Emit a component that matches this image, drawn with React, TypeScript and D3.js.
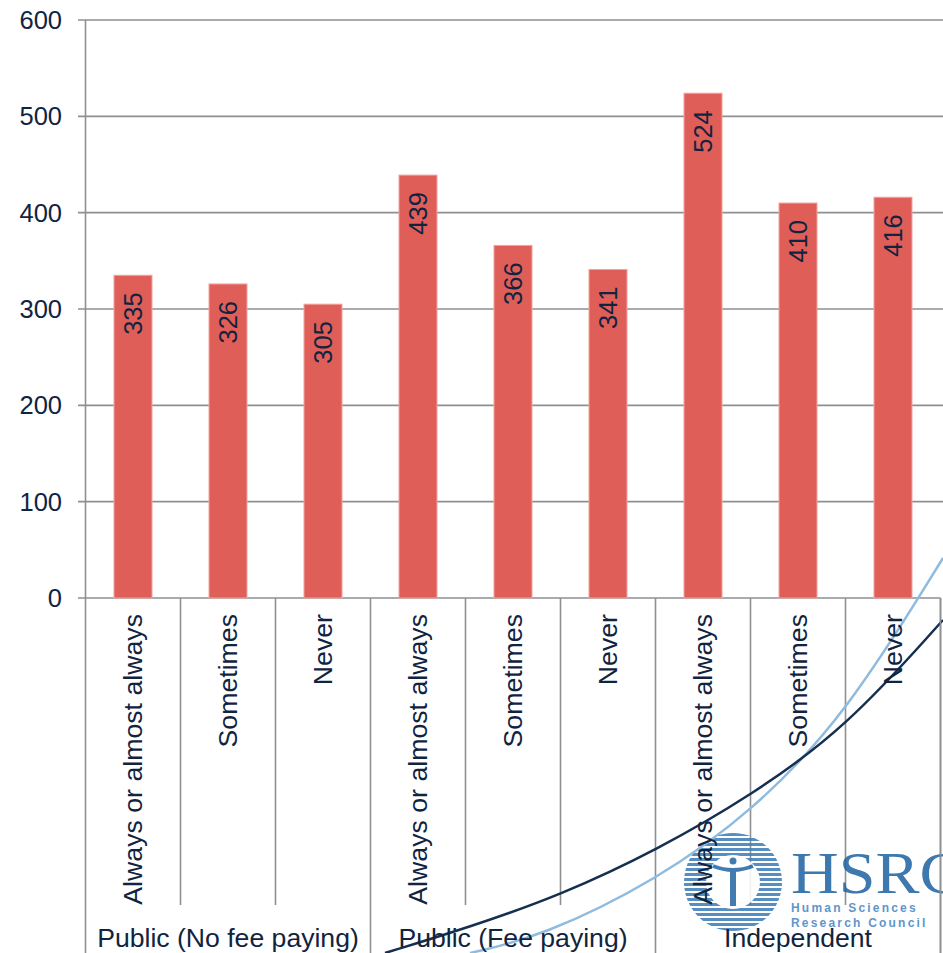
import React from "react";
import * as d3 from "d3";

const categories = [
  "Always or almost always", "Sometimes", "Never",
  "Always or almost always", "Sometimes", "Never",
  "Always or almost always", "Sometimes", "Never",
];
const values = [335, 326, 305, 439, 366, 341, 524, 410, 416];
const groups = ["Public (No fee paying)", "Public (Fee paying)", "Independent"];
const yTicks = [0, 100, 200, 300, 400, 500, 600];

const W = 943;
const H = 953;
const LEFT = 85.5;
const RIGHT = 940.5;
const TOP = 20;
const BASE = 598;
const TEXT = "#10243f";
const AXIS = "#8e8f93";
const FONT = "'Liberation Sans', Arial, sans-serif";

export default function App() {
  const idx = categories.map((_, i) => i);
  const x = d3.scaleBand<number>().domain(idx).range([LEFT, RIGHT]).paddingInner(0.6).paddingOuter(0.3);
  const y = d3.scaleLinear().domain([0, 600]).range([BASE, TOP]);
  const step = x.step();

  const darkCurve = d3.line().curve(d3.curveBasis)([
    [385, 953], [470, 927], [561, 895], [657, 850], [752, 795], [846, 728], [943, 620],
  ]) as string;
  const lightCurve = d3.line().curve(d3.curveBasis)([
    [470, 953], [543, 936], [657, 880], [752, 812], [846, 715], [943, 558],
  ]) as string;

  const cx = 733, cy = 882, r = 49;
  const stripes = d3.range(cy - r, cy + r, 5);

  return (
    <svg width={W} height={H} style={{ position: "absolute", left: 0, top: 0, background: "#fff" }} fontFamily={FONT}>
      <defs>
        <clipPath id="logoClip">
          <circle cx={cx} cy={cy} r={r} />
        </clipPath>
      </defs>
      {/* gridlines */}
      {yTicks.map((t) => (
        <g key={t}>
          <line x1={78} x2={t === 0 ? RIGHT : W} y1={y(t)} y2={y(t)} stroke={AXIS} strokeWidth={1.6} />
          <text x={62} y={y(t)} dy="0.35em" textAnchor="end" fontSize={25.5} fill={TEXT}>{t}</text>
        </g>
      ))}
      {/* left axis */}
      <line x1={LEFT} x2={LEFT} y1={TOP} y2={H} stroke={AXIS} strokeWidth={1.6} />
      {/* separators */}
      {d3.range(1, 10).map((i) => (
        <line key={i} x1={LEFT + i * step} x2={LEFT + i * step} y1={BASE} y2={i % 3 === 0 ? H : 905} stroke={AXIS} strokeWidth={1.6} />
      ))}
      {/* decorative logo */}
      <g opacity={0.88}>
        <g clipPath="url(#logoClip)">
          {stripes.map((s, i) => (
            <rect key={i} x={cx - r} y={s} width={2 * r} height={3} fill="#3f7fb9" />
          ))}
        </g>
        <circle cx={cx} cy={cy} r={27} fill="#fff" />
        <circle cx={cx} cy={861} r={3.5} fill="#2a6aa6" />
        <path d={`M${cx - 20},866 Q${cx},874 ${cx + 20},866`} fill="none" stroke="#2a6aa6" strokeWidth={4} />
        <rect x={cx - 3} y={870} width={6} height={36} fill="#2a6aa6" />
        <text transform="translate(791,893) scale(1.12,1)" fontFamily="'Liberation Serif', 'DejaVu Serif', serif" fontSize={59} fill="#2366a3">HSRC</text>
        <text x={791} y={912} fontSize={12} fontWeight="bold" fill="#4a88c2" letterSpacing={2.2}>Human Sciences</text>
        <text x={791} y={927} fontSize={12} fontWeight="bold" fill="#4a88c2" letterSpacing={2.2}>Research Council</text>
      </g>
      <path d={lightCurve} fill="none" stroke="#8fbbdf" strokeWidth={2.5} />
      <path d={darkCurve} fill="none" stroke="#142f4f" strokeWidth={2.5} />
      {/* bars */}
      {values.map((v, i) => (
        <rect key={i} x={x(i)} y={y(v)} width={x.bandwidth()} height={BASE - y(v)} fill="#e05e58" stroke="#f2a3a0" strokeWidth={1} />
      ))}
      {/* data labels */}
      {values.map((v, i) => {
        const cxb = (x(i) as number) + x.bandwidth() / 2;
        const ty = y(v) + 17;
        return (
          <text key={i} transform={`translate(${cxb},${ty}) rotate(-90)`} dy="0.35em" textAnchor="end" fontSize={25.5} fill={TEXT}>{v}</text>
        );
      })}
      {/* category labels */}
      {categories.map((c, i) => {
        const cxb = (x(i) as number) + x.bandwidth() / 2;
        return (
          <text key={i} transform={`translate(${cxb},614) rotate(-90)`} dy="0.35em" textAnchor="end" fontSize={26.7} fill={TEXT}>{c}</text>
        );
      })}
      {/* group labels */}
      {groups.map((g, i) => (
        <text key={i} x={LEFT + (i * 3 + 1.5) * step} y={947} textAnchor="middle" fontSize={26.6} fill={TEXT}>{g}</text>
      ))}
      {/* right edge */}
      <line x1={RIGHT} x2={RIGHT} y1={BASE} y2={H} stroke={AXIS} strokeWidth={1.6} />
    </svg>
  );
}
